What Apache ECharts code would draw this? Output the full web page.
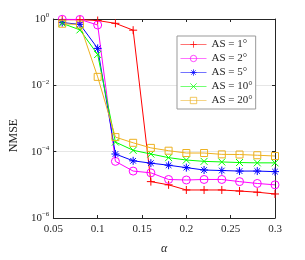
<!DOCTYPE html>
<html><head><meta charset="utf-8">
<script src="https://cdn.jsdelivr.net/npm/echarts@6/dist/echarts.min.js"></script>
<style>html,body{margin:0;padding:0;background:#fff}#c{width:305px;height:260px}</style>
</head><body><div id="c"></div>
<script>
var alphas = [0.06,0.08,0.10,0.12,0.14,0.16,0.18,0.20,0.22,0.24,0.26,0.28,0.30];
var seriesNames = ['AS = 1°','AS = 2°','AS = 5°','AS = 10°','AS = 20°'];
var as1  = [0.95,0.95,0.9,0.74,0.46,1.25e-5,1.0e-5,7e-6,7e-6,7e-6,6.5e-6,6e-6,5.3e-6];
var as2  = [0.98,0.97,0.66,5.1e-5,2.6e-5,2.3e-5,1.45e-5,1.4e-5,1.45e-5,1.45e-5,1.25e-5,1.1e-5,1.0e-5];
var as5  = [0.78,0.69,0.13,8.5e-5,5.3e-5,4.5e-5,3.9e-5,3.3e-5,2.8e-5,2.7e-5,2.6e-5,2.6e-5,2.5e-5];
var as10 = [0.74,0.47,0.085,1.95e-4,1.1e-4,8.5e-5,6.6e-5,5.6e-5,5.1e-5,4.9e-5,4.7e-5,4.6e-5,4.6e-5];
var as20 = [0.72,0.68,0.018,2.75e-4,1.85e-4,1.3e-4,1.07e-4,9.1e-5,9.1e-5,8.3e-5,8.2e-5,7.8e-5,7.4e-5];
var xTicks = [0.05,0.1,0.15,0.2,0.25,0.3];
var yTickExps = [0,-2,-4,-6];

var colors = ['#ff0000','#ff00ff','#0000ff','#00ff00','#edb120'];
var symbols = [
  'path://M0,5L10,5M5,0L5,10',
  'circle',
  'path://M0,5L10,5M5,0L5,10M1.5,1.5L8.5,8.5M1.5,8.5L8.5,1.5',
  'path://M1,1L9,9M1,9L9,1',
  'rect'
];
var sizes = [8,8,8,7,7];
var allData = [as1,as2,as5,as10,as20];
var FONT = 'Liberation Serif';
var TXT = '#262626';

var chart = echarts.init(document.getElementById('c'), null, {renderer:'canvas'});
var series = allData.map(function(d,i){
  return {
    name: seriesNames[i], type:'line', xAxisIndex:0, yAxisIndex:0,
    data: alphas.map(function(a,k){return [a,d[k]];}),
    color: colors[i],
    symbol: symbols[i], symbolSize: sizes[i], showAllSymbol:true,
    lineStyle:{color:colors[i], width:1},
    itemStyle:{color:'rgba(0,0,0,0)', borderColor:colors[i], borderWidth:1},
    emphasis:{disabled:true}, animation:false
  };
});
function yFmt(v){
  var e = Math.round(Math.log10(v));
  return '{b|10}{s|' + e.toString().replace('-','\u2212') + '}';
}
var richY = {b:{fontFamily:FONT,fontSize:11,color:TXT}, s:{fontFamily:FONT,fontSize:7,color:TXT,padding:[0,0,7,0]}};
chart.setOption({
  animation:false,
  grid:{left:40,right:30,top:19,bottom:40},
  xAxis:[{
    type:'value', min:0.05, max:0.3, interval:0.05, position:'bottom',
    axisLine:{show:true,lineStyle:{color:TXT,width:1}},
    axisTick:{show:true,inside:true,length:3,lineStyle:{color:TXT}},
    axisLabel:{fontFamily:FONT,fontSize:11,color:TXT,margin:6,formatter:function(v){return String(+v.toFixed(2));}},
    splitLine:{show:false},
    name:'α', nameLocation:'middle', nameGap:25,
    nameTextStyle:{fontFamily:FONT,fontSize:12,fontStyle:'italic',color:TXT}
  },{
    type:'value', min:0.05, max:0.3, interval:0.05, position:'top',
    axisLine:{show:true,lineStyle:{color:TXT,width:1}},
    axisTick:{show:true,inside:true,length:3,lineStyle:{color:TXT}},
    axisLabel:{show:false}, splitLine:{show:false}
  }],
  yAxis:[{
    type:'log', logBase:10, min:1e-6, max:1, interval:2, position:'left',
    axisLine:{show:true,lineStyle:{color:TXT,width:1}},
    axisTick:{show:true,inside:true,length:3,lineStyle:{color:TXT}},
    axisLabel:{formatter:yFmt, rich:richY, margin:4},
    splitLine:{show:true,lineStyle:{color:'#e6e6e6',width:1}},
    minorTick:{show:false},
    name:'NMSE', nameLocation:'middle', nameGap:31, nameRotate:90,
    nameTextStyle:{fontFamily:FONT,fontSize:12,color:TXT,padding:[0,34,0,0]}
  },{
    type:'log', logBase:10, min:1e-6, max:1, interval:2, position:'right',
    axisLine:{show:true,lineStyle:{color:TXT,width:1}},
    axisTick:{show:true,inside:true,length:3,lineStyle:{color:TXT}},
    axisLabel:{show:false}, splitLine:{show:false}
  }],
  legend:{
    data:seriesNames, orient:'vertical', left:177, top:36,
    backgroundColor:'#fff', borderColor:'#999', borderWidth:1, borderRadius:0,
    padding:[3,3,3,3], itemGap:3, itemWidth:26, itemHeight:8,
    lineStyle:{width:1, opacity:0.55},
    itemStyle:{borderWidth:1, opacity:0.7},
    textStyle:{fontFamily:FONT,fontSize:11,color:TXT}
  },
  series: series
});
</script></body></html>
